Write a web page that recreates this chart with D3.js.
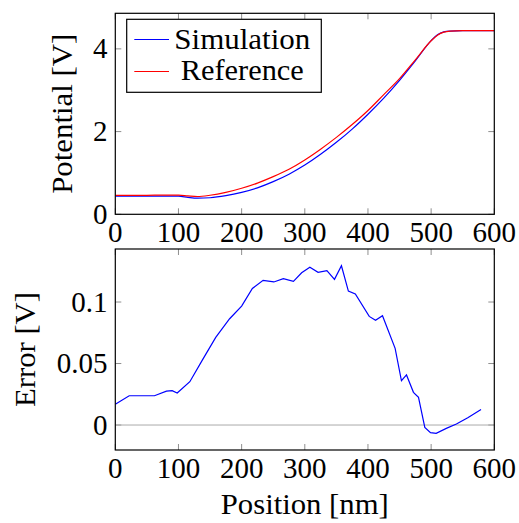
<!DOCTYPE html>
<html>
<head>
<meta charset="utf-8">
<script src="https://cdn.jsdelivr.net/npm/d3@7"></script>
<style>
  html, body { margin: 0; padding: 0; background: #fff; }
  svg { display: block; }
</style>
</head>
<body>
<svg id="chart" width="519" height="523"></svg>
<script>
// Potential along the device, simulated vs. reference [V]
const positions = [0, 25, 50, 75, 100, 115, 130, 150, 175, 200, 225, 250, 275, 300,
  325, 350, 375, 400, 425, 450, 475, 500, 510, 520, 530, 550, 575, 600];
const simulation = [0.44, 0.44, 0.44, 0.44, 0.44, 0.41, 0.39, 0.40, 0.45, 0.53, 0.64, 0.79, 0.97, 1.19,
  1.45, 1.74, 2.06, 2.42, 2.81, 3.24, 3.71, 4.20, 4.34, 4.41, 4.43, 4.44, 4.44, 4.44];
const reference = [0.46, 0.46, 0.46, 0.465, 0.465, 0.445, 0.43, 0.46, 0.53, 0.63, 0.755, 0.91, 1.09, 1.315,
  1.575, 1.86, 2.17, 2.51, 2.895, 3.28, 3.735, 4.195, 4.33, 4.405, 4.43, 4.44, 4.44, 4.44];

// Error between the two curves [V]
const errPositions = [0, 22, 62, 81, 90, 98, 118, 138, 159, 181, 200, 217, 234, 251, 266, 282, 295,
  308, 321, 335, 347, 358, 369, 380, 402, 412, 423, 443, 453, 461, 472, 480, 490, 499, 508,
  524, 540, 558, 579];
const errValues = [0.0168, 0.0238, 0.0238, 0.0276, 0.0279, 0.026, 0.0352, 0.053, 0.0713, 0.0864, 0.0967,
  0.111, 0.1176, 0.1163, 0.119, 0.1168, 0.1238, 0.1282, 0.1241, 0.1255, 0.1184, 0.1295, 0.1089,
  0.1065, 0.0883, 0.0851, 0.0889, 0.0623, 0.036, 0.0407, 0.0266, 0.0225, -0.0019, -0.0062,
  -0.0068, -0.0027, 0.0008, 0.0059, 0.0127];

// Axis ticks
const xTicks = [0, 100, 200, 300, 400, 500, 600];
const potentialTicks = [0, 2, 4];
const errorTicks = [0, 0.05, 0.1];

const SERIF = "Liberation Serif";
const svg = d3.select("#chart");
svg.append("rect").attr("width", 519).attr("height", 523).attr("fill", "#fff");

// every label is set in the same serif face
function label(parent) {
  return parent.append("text").attr("font-family", SERIF).attr("font-size", 29).attr("fill", "#000");
}

const left = 115.3, right = 494.3;
const TICK = 6;
const tickColor = "#8f8f8f";

const x = d3.scaleLinear().domain([0, 600]).range([left, right]);

function panel(opts) {
  const { top, bottom, yDomain, yTicks, id } = opts;
  const y = d3.scaleLinear().domain(yDomain).range([bottom, top]);
  const g = svg.append("g");

  g.append("clipPath").attr("id", id)
    .append("rect").attr("x", left).attr("y", top)
    .attr("width", right - left).attr("height", bottom - top);

  // inward ticks on all four sides
  const ticksG = g.append("g").attr("stroke", tickColor).attr("stroke-width", 1);
  xTicks.forEach(t => {
    ticksG.append("line").attr("x1", x(t)).attr("x2", x(t)).attr("y1", bottom).attr("y2", bottom - TICK);
    ticksG.append("line").attr("x1", x(t)).attr("x2", x(t)).attr("y1", top).attr("y2", top + TICK);
  });
  yTicks.forEach(t => {
    ticksG.append("line").attr("x1", left).attr("x2", left + TICK).attr("y1", y(t)).attr("y2", y(t));
    ticksG.append("line").attr("x1", right).attr("x2", right - TICK).attr("y1", y(t)).attr("y2", y(t));
  });

  // tick labels
  xTicks.forEach(t => {
    label(g).attr("x", x(t)).attr("y", bottom + 28).attr("text-anchor", "middle").text(String(t));
  });
  yTicks.forEach(t => {
    label(g).attr("x", 107.5).attr("y", y(t) + 9.5).attr("text-anchor", "end").text(String(t));
  });

  return { g, y, clip: `url(#${id})` };
}

// ---------- Potential panel ----------
const top1 = panel({ top: 13.3, bottom: 214.3, yDomain: [0, 4.86], yTicks: potentialTicks, id: "clipTop" });

const lineTop = d3.line().curve(d3.curveMonotoneX).x(d => x(d[0])).y(d => top1.y(d[1]));
const plotTop = top1.g.append("g").attr("clip-path", top1.clip);
plotTop.append("path")
  .datum(d3.zip(positions, simulation))
  .attr("fill", "none").attr("stroke", "#0000ff").attr("stroke-width", 1.2)
  .attr("d", lineTop);
plotTop.append("path")
  .datum(d3.zip(positions, reference))
  .attr("fill", "none").attr("stroke", "#ff0000").attr("stroke-width", 1.2)
  .attr("d", lineTop);

top1.g.append("rect").attr("x", left).attr("y", 13.3)
  .attr("width", right - left).attr("height", 214.3 - 13.3)
  .attr("fill", "none").attr("stroke", "#000").attr("stroke-width", 1.2);

label(top1.g)
  .attr("transform", "translate(72,113.8) rotate(-90)")
  .attr("text-anchor", "middle")
  .attr("textLength", 160).attr("lengthAdjust", "spacingAndGlyphs")
  .text("Potential [V]");

// legend
const legend = svg.append("g");
legend.append("rect").attr("x", 126.7).attr("y", 19.3).attr("width", 194.6).attr("height", 73)
  .attr("fill", "#fff").attr("stroke", "#000").attr("stroke-width", 1.2);
const legendItems = [
  { name: "Simulation", color: "#0000ff", ly: 39.5, ty: 48.5, w: 136 },
  { name: "Reference", color: "#ff0000", ly: 71.5, ty: 80, w: 123 }
];
legendItems.forEach(it => {
  legend.append("line").attr("x1", 134.3).attr("x2", 169).attr("y1", it.ly).attr("y2", it.ly)
    .attr("stroke", it.color).attr("stroke-width", 1.2);
  label(legend).attr("x", 242.3).attr("y", it.ty)
    .attr("text-anchor", "middle")
    .attr("textLength", it.w).attr("lengthAdjust", "spacingAndGlyphs")
    .text(it.name);
});

// ---------- Error panel ----------
const bot = panel({ top: 249, bottom: 450, yDomain: [-0.0203, 0.1431], yTicks: errorTicks, id: "clipBot" });

// zero reference line
bot.g.append("line").attr("x1", left).attr("x2", right).attr("y1", bot.y(0)).attr("y2", bot.y(0))
  .attr("stroke", "#aaaaaa").attr("stroke-width", 1);

const lineBot = d3.line().x(d => x(d[0])).y(d => bot.y(d[1]));
bot.g.append("g").attr("clip-path", bot.clip).append("path")
  .datum(d3.zip(errPositions, errValues))
  .attr("fill", "none").attr("stroke", "#0000ff").attr("stroke-width", 1.2)
  .attr("d", lineBot);

bot.g.append("rect").attr("x", left).attr("y", 249)
  .attr("width", right - left).attr("height", 450 - 249)
  .attr("fill", "none").attr("stroke", "#000").attr("stroke-width", 1.2);

label(bot.g)
  .attr("transform", "translate(35,349.5) rotate(-90)")
  .attr("text-anchor", "middle")
  .attr("textLength", 115).attr("lengthAdjust", "spacingAndGlyphs")
  .text("Error [V]");

label(svg).attr("x", 304.8).attr("y", 514)
  .attr("text-anchor", "middle")
  .attr("textLength", 168).attr("lengthAdjust", "spacingAndGlyphs")
  .text("Position [nm]");
</script>
</body>
</html>
